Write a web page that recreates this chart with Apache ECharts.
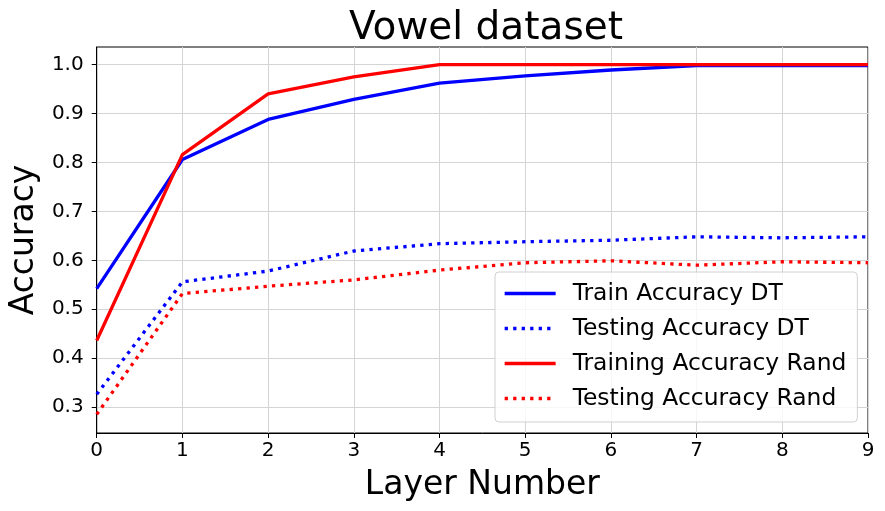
<!DOCTYPE html>
<html>
<head>
<meta charset="utf-8">
<script src="https://cdn.jsdelivr.net/npm/echarts@6/dist/echarts.min.js"></script>
<style>
html,body{margin:0;padding:0;background:#fff;}
#c{width:885px;height:511px;}
</style>
</head>
<body>
<div id="c"></div>
<script>
const layers = [0, 1, 2, 3, 4, 5, 6, 7, 8, 9];
const trainDT = [0.542, 0.806, 0.888, 0.929, 0.962, 0.977, 0.989, 0.998, 0.998, 0.998];
const testDT = [0.326, 0.556, 0.578, 0.619, 0.634, 0.638, 0.641, 0.648, 0.646, 0.648];
const trainRand = [0.436, 0.816, 0.940, 0.975, 1.0, 1.0, 1.0, 1.0, 1.0, 1.0];
const testRand = [0.285, 0.532, 0.547, 0.560, 0.580, 0.595, 0.599, 0.590, 0.597, 0.595];
const yTicks = [0.3, 0.4, 0.5, 0.6, 0.7, 0.8, 0.9, 1.0];
const names = ['Train Accuracy DT', 'Testing Accuracy DT', 'Training Accuracy Rand', 'Testing Accuracy Rand'];

const FONT = 'DejaVu Sans';
const pairs = arr => layers.map((x, i) => [x, arr[i]]);

const chart = echarts.init(document.getElementById('c'), null, {renderer: 'canvas'});
function mk(name, data, color, dotted) {
  return {
    name: name,
    type: 'line',
    data: pairs(data),
    symbol: 'none',
    showSymbol: false,
    lineStyle: {color: color, width: 3.3, type: dotted ? [3.3, 5.2] : 'solid', cap: 'butt'},
    itemStyle: {color: color},
    emphasis: {disabled: true},
    animation: false
  };
}
chart.setOption({
  animation: false,
  textStyle: {fontFamily: FONT},
  title: {
    text: 'Vowel dataset',
    left: 481,
    textAlign: 'center',
    top: 4,
    textStyle: {fontFamily: FONT, fontSize: 39, fontWeight: 'normal', color: '#000'}
  },
  grid: {
    left: 94, right: 17, top: 47, bottom: 78,
    show: true, borderColor: '#000', borderWidth: 1, backgroundColor: 'transparent'
  },
  legend: {
    orient: 'vertical',
    left: 495,
    top: 272,
    data: names,
    itemWidth: 51,
    itemHeight: 14,
    itemGap: 12,
    padding: [10, 11, 12, 8],
    backgroundColor: 'rgba(255,255,255,0.8)',
    borderColor: '#d0d0d0',
    borderWidth: 1,
    borderRadius: 4,
    itemStyle: {opacity: 0},
    lineStyle: {width: 3.3},
    textStyle: {fontFamily: FONT, fontSize: 23.4, color: '#000', lineHeight: 23, padding: [0, 0, 0, 12]}
  },
  xAxis: {
    type: 'value',
    min: 0, max: 9, interval: 1,
    name: 'Layer Number',
    nameLocation: 'middle',
    nameGap: 36,
    nameTextStyle: {fontFamily: FONT, fontSize: 33, color: '#000'},
    axisLine: {show: true, lineStyle: {color: '#000', width: 1}},
    axisTick: {show: true, inside: false, length: 5, lineStyle: {color: '#000', width: 1}},
    axisLabel: {fontFamily: FONT, fontSize: 20, color: '#000', margin: 8},
    splitLine: {show: true, lineStyle: {color: '#d4d4d4', width: 1}}
  },
  yAxis: {
    type: 'value',
    min: 0.247, max: 1.036,
    name: 'Accuracy',
    nameLocation: 'middle',
    nameGap: 52,
    nameTextStyle: {fontFamily: FONT, fontSize: 33, color: '#000'},
    axisLine: {show: true, lineStyle: {color: '#000', width: 1}},
    axisTick: {show: true, inside: false, length: 5, customValues: yTicks, lineStyle: {color: '#000', width: 1}},
    axisLabel: {fontFamily: FONT, fontSize: 20, color: '#000', margin: 13, customValues: yTicks, formatter: v => Number(v).toFixed(1)},
    splitLine: {show: true, lineStyle: {color: '#d4d4d4', width: 1}}
  },
  series: [
    mk(names[0], trainDT, '#0000ff', false),
    mk(names[1], testDT, '#0000ff', true),
    mk(names[2], trainRand, '#ff0000', false),
    mk(names[3], testRand, '#ff0000', true)
  ]
});
</script>
</body>
</html>
